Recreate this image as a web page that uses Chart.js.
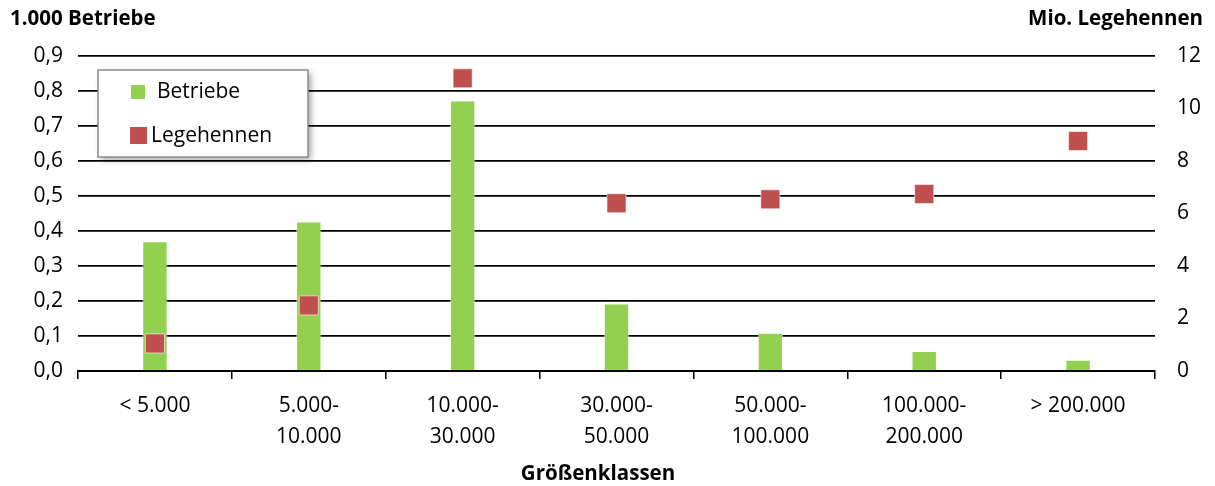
<!DOCTYPE html>
<html>
<head>
<meta charset="utf-8">
<script src="https://cdn.jsdelivr.net/npm/chart.js@4.4.1/dist/chart.umd.min.js"></script>
<style>
  html, body { margin: 0; padding: 0; background: #fff; }
  #wrap { width: 1215px; height: 486px; position: relative; }
</style>
</head>
<body>
<div id="wrap"><canvas id="chart"></canvas></div>
<script>
const categories = [
  "< 5.000",
  ["5.000-", "10.000"],
  ["10.000-", "30.000"],
  ["30.000-", "50.000"],
  ["50.000-", "100.000"],
  ["100.000-", "200.000"],
  "> 200.000"
];
const betriebe = [0.371, 0.427, 0.773, 0.193, 0.109, 0.057, 0.032];
const legehennen = [1.05, 2.5, 11.15, 6.39, 6.54, 6.74, 8.76];

const FONT = "'Open Sans', 'Noto Sans', sans-serif";
const GREEN = "#92d050";
const RED = "#c0504d";

const fmt = (v, d) => v.toFixed(d).replace(".", ",");

const extras = {
  id: "extras",
  afterDraw(chart) {
    const { ctx } = chart;
    ctx.save();
    // axis titles
    ctx.fillStyle = "#000";
    ctx.font = "bold 20.5px " + FONT;
    ctx.textBaseline = "middle";
    ctx.textAlign = "left";
    ctx.fillText("1.000 Betriebe", 10, 19);
    ctx.textAlign = "right";
    ctx.fillText("Mio. Legehennen", 1203, 19);
    ctx.textAlign = "center";
    ctx.fillText("Größenklassen", 598, 474);

    // legend box
    const bx = 98, by = 70, bw = 210, bh = 87;
    ctx.shadowColor = "rgba(0,0,0,0.35)";
    ctx.shadowBlur = 6;
    ctx.shadowOffsetX = 3;
    ctx.shadowOffsetY = 3;
    ctx.fillStyle = "#fff";
    ctx.fillRect(bx, by, bw, bh);
    ctx.shadowColor = "transparent";
    ctx.strokeStyle = "#8c8c8c";
    ctx.lineWidth = 1.5;
    ctx.strokeRect(bx, by, bw, bh);

    ctx.fillStyle = GREEN;
    ctx.fillRect(131, 85, 14, 14);
    ctx.fillStyle = RED;
    ctx.fillRect(130, 127, 17, 17);
    ctx.fillStyle = "#000";
    ctx.font = "21px " + FONT;
    ctx.textAlign = "left";
    ctx.fillText("Betriebe", 157, 92);
    ctx.fillText("Legehennen", 151, 136);
    ctx.restore();
  }
};

new Chart(document.getElementById("chart"), {
  type: "bar",
  data: {
    labels: categories,
    datasets: [
      {
        label: "Legehennen",
        type: "line",
        data: legehennen,
        yAxisID: "y1",
        showLine: false,
        pointStyle: "rect",
        pointRadius: 13.5,
        pointHoverRadius: 13.5,
        backgroundColor: RED,
        borderColor: "rgba(255,255,255,0.6)",
        pointBorderWidth: 1,
        order: 0
      },
      {
        label: "Betriebe",
        data: betriebe,
        yAxisID: "y",
        backgroundColor: GREEN,
        borderColor: "rgba(255,255,255,0.5)",
        borderWidth: 1,
        barPercentage: 0.165,
        categoryPercentage: 1,
        order: 1
      }
    ]
  },
  options: {
    responsive: true,
    maintainAspectRatio: false,
    animation: false,
    layout: { padding: { top: 56, left: 0, right: 0, bottom: 0 } },
    plugins: {
      legend: { display: false },
      tooltip: { enabled: false }
    },
    scales: {
      x: {
        offset: true,
        grid: {
          offset: true,
          drawOnChartArea: false,
          drawTicks: true,
          tickLength: 8,
          color: "#000",
          lineWidth: 1.5
        },
        border: { display: true, color: "#000", width: 2 },
        ticks: {
          color: "#000",
          font: { family: FONT, size: 21, lineHeight: 1.5 },
          padding: 11,
          maxRotation: 0,
          autoSkip: false
        },
        afterFit(scale) { scale.height = 115; }
      },
      y: {
        position: "left",
        min: 0,
        max: 0.9,
        ticks: {
          stepSize: 0.1,
          color: "#000",
          font: { family: FONT, size: 21 },
          padding: 15,
          callback: (v) => fmt(v, 1)
        },
        grid: { color: "#000", lineWidth: 1.8, drawTicks: false },
        border: { display: false },
        afterFit(scale) { scale.width = 78; }
      },
      y1: {
        position: "right",
        min: 0,
        max: 12,
        ticks: {
          stepSize: 2,
          color: "#000",
          font: { family: FONT, size: 21 },
          padding: 22
        },
        grid: { display: false, drawTicks: false },
        border: { display: false },
        afterFit(scale) { scale.width = 60; }
      }
    }
  },
  plugins: [extras]
});
</script>
</body>
</html>
